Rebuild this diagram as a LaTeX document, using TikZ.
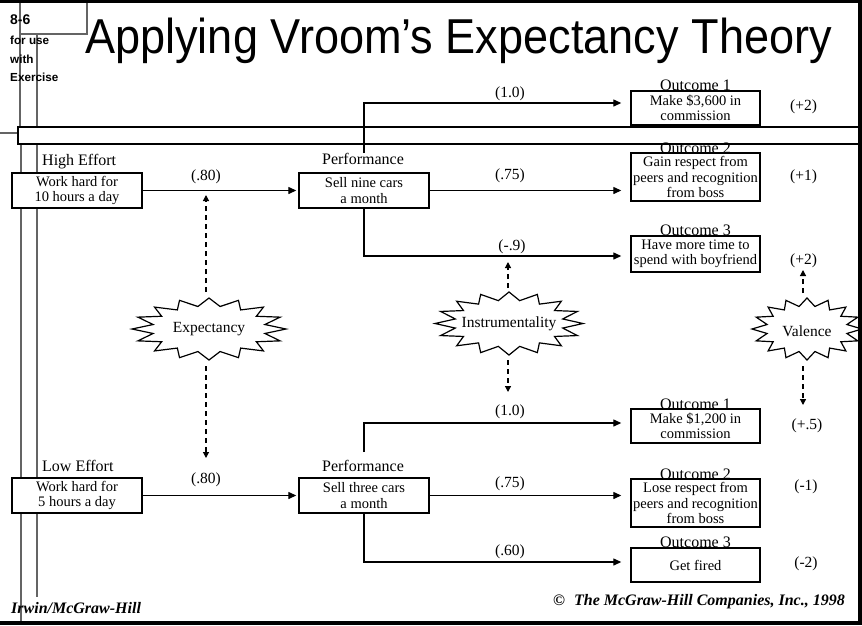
\documentclass[tikz,border=0pt]{standalone}
\usepackage{fontspec}
\setmainfont{Liberation Serif}
\newfontfamily\headfont{Liberation Sans}
\newfontfamily\titlefont{Liberation Sans}[FakeStretch=0.92]
\usetikzlibrary{arrows.meta,calc}

\definecolor{tmpl}{RGB}{100,100,100}

\tikzset{
  stepbox/.style={draw, line width=1.4pt, fill=white, inner sep=0pt, align=center,
    minimum width=130pt, minimum height=35pt, font=\fontsize{14.5}{15.5}\selectfont},
  outbox/.style={stepbox, minimum width=129pt},
  heading/.style={anchor=base, inner sep=0pt, font=\fontsize{16}{18}\selectfont},
  prob/.style={anchor=base, inner sep=0pt, font=\fontsize{15.5}{17}\selectfont},
  link/.style={line width=1.3pt, -{Triangle[length=8pt,width=7pt]}},
  branch/.style={line width=1.3pt},
  dlink/.style={line width=1.2pt, dash pattern=on 5pt off 4pt, -{Triangle[length=6pt,width=6pt]}},
  burstlabel/.style={inner sep=0pt, font=\fontsize{15.5}{17}\selectfont},
  burst/.style={line width=1.2pt, fill=white, line join=miter},
  tmplline/.style={tmpl, line width=1.3pt},
  sidenote/.style={anchor=base west, inner sep=0pt, font=\headfont\bfseries\fontsize{11.7}{13}\selectfont},
  footer/.style={inner sep=0pt, font=\bfseries\itshape\fontsize{16}{18}\selectfont},
}

% sixteen-point burst on an ellipse: centre x, centre y, outer rx, outer ry
\newcommand\drawburst[4]{%
  \draw[burst] (#1+#3,#2) \foreach \k in {1,...,31}{
    -- ({#1+#3*(1-0.26*mod(\k,2))*cos(\k*11.25)},{#2+#4*(1-0.26*mod(\k,2))*sin(\k*11.25)}) } -- cycle;}

\begin{document}
\begin{tikzpicture}[x=1pt,y=-1pt]
\useasboundingbox (0,0) rectangle (862,625);
\fill[white] (0,0) rectangle (862,625);

% slide template rules
\draw[tmplline] (20,0) -- (20,128);
\draw[tmplline] (87,0) -- (87,34) -- (20,34);
\draw[tmplline] (37,34) -- (37,128);
\draw[tmplline] (0,133) -- (18,133);
\draw[tmplline] (21,144) -- (21,625);
\draw[tmplline] (37,144) -- (37,597);
\draw[line width=1.2pt] (862,127) -- (18,127) -- (18,144) -- (862,144);

% heading
\node[anchor=base west, inner sep=0pt, font=\headfont\bfseries\fontsize{14}{16}\selectfont] (num) at (10,24) {8-6};
\node[sidenote] (use1) at (10,44) {for use};
\node[sidenote] (use2) at (10,63) {with};
\node[sidenote] (use3) at (10,81) {Exercise};
\node[anchor=base west, inner sep=0pt, font=\titlefont\fontsize{49}{51}\selectfont] (title) at (85,53) {Applying Vroom’s Expectancy Theory};

% ---- high effort path ----
\node[heading, anchor=base west] (hiLab) at (42,165) {High Effort};
\node[stepbox] (effH) at (77,190.5) {Work hard for\\10 hours a day};
\node[heading] (perfHLab) at (363,164) {Performance};
\node[stepbox] (perfH) at (364,190.5) {Sell nine cars\\a month};

\node[heading] (o1HLab) at (695.5,90) {Outcome 1};
\node[outbox, minimum height=34pt] (o1H) at (695.5,108) {Make \$3,600 in\\commission};
\node[heading] (o2HLab) at (695.5,153) {Outcome 2};
\node[outbox, minimum height=48pt] (o2H) at (695.5,177) {Gain respect from\\peers and recognition\\from boss};
\node[heading] (o3HLab) at (695.5,235) {Outcome 3};
\node[outbox, minimum height=36pt] (o3H) at (695.5,254) {Have more time to\\spend with boyfriend};

\node[prob] (pEH) at (206,180) {(.80)};
\node[prob] (p1H) at (510,97) {(1.0)};
\node[prob] (p2H) at (510,179) {(.75)};
\node[prob] (p3H) at (512,250) {(-.9)};
\node[prob] (v1H) at (803.5,110) {(+2)};
\node[prob] (v2H) at (803.5,180) {(+1)};
\node[prob] (v3H) at (803.5,264) {(+2)};

\draw[link, shorten >=2pt] (effH.east) -- (perfH.west);
\coordinate (bH1) at (364,153);
\draw[link, shorten >=9pt] (bH1) |- ([yshift=5pt]o1H.west);
\draw[link, shorten >=9pt] (perfH.east) -- (perfH.east -| o2H.west);
\draw[link, shorten >=9pt] (perfH.south) |- ([yshift=-2pt]o3H.west);

% ---- low effort path ----
\node[heading, anchor=base west] (loLab) at (42,471) {Low Effort};
\node[stepbox] (effL) at (77,495.5) {Work hard for\\5 hours a day};
\node[heading] (perfLLab) at (363,471) {Performance};
\node[stepbox] (perfL) at (364,495.5) {Sell three cars\\a month};

\node[heading] (o1LLab) at (695.5,409) {Outcome 1};
\node[outbox, minimum height=34pt] (o1L) at (695.5,426) {Make \$1,200 in\\commission};
\node[heading] (o2LLab) at (695.5,479) {Outcome 2};
\node[outbox, minimum height=48pt] (o2L) at (695.5,503) {Lose respect from\\peers and recognition\\from boss};
\node[heading] (o3LLab) at (695.5,547) {Outcome 3};
\node[outbox, minimum height=34pt] (o3L) at (695.5,565) {Get fired};

\node[prob] (pEL) at (206,483) {(.80)};
\node[prob] (p1L) at (510,415) {(1.0)};
\node[prob] (p2L) at (510,487) {(.75)};
\node[prob] (p3L) at (510,555) {(.60)};
\node[prob] (v1L) at (807,429) {(+.5)};
\node[prob] (v2L) at (806,490) {(-1)};
\node[prob] (v3L) at (806,567) {(-2)};

\draw[link, shorten >=2pt] (effL.east) -- (perfL.west);
\coordinate (bL1) at (364,452);
\draw[link, shorten >=9pt] (bL1) |- ([yshift=3pt]o1L.west);
\draw[link, shorten >=9pt] (perfL.east) -- (perfL.east -| o2L.west);
\draw[link, shorten >=9pt] (perfL.south) |- ([yshift=3pt]o3L.west);

% ---- bursts ----
\drawburst{209}{329}{77}{31}
\node[burstlabel] (expect) at (209,329) {Expectancy};
\drawburst{509}{323.5}{74}{31.5}
\node[burstlabel] (instr) at (509,323.5) {Instrumentality};
\begin{scope}
  \clip (0,0) rectangle (858,625);
  \drawburst{807}{329}{55}{31}
\end{scope}
\node[burstlabel] (val) at (807,331) {Valence};

% dashed pointers from the bursts to the links and values
\coordinate (eUp) at (206,195);
\coordinate (eDn) at (206,458);
\coordinate (iUp) at (508,262);
\coordinate (iDn) at (508,392);
\coordinate (vUp) at (803,270);
\coordinate (vDn) at (803,405);
\draw[dlink] (eUp |- 0,292) -- (eUp);
\draw[dlink] (eDn |- 0,366) -- (eDn);
\draw[dlink] (iUp |- 0,288) -- (iUp);
\draw[dlink] (iDn |- 0,360) -- (iDn);
\draw[dlink] (vUp |- 0,293) -- (vUp);
\draw[dlink] (vDn |- 0,366) -- (vDn);

% ---- footer ----
\node[footer, anchor=base west] (pub) at (11,613) {Irwin/McGraw-Hill};
\node[footer, anchor=base east] (copy) at (845,605) {©\hspace{9pt}The McGraw-Hill Companies, Inc., 1998};

% frame
\fill (0,0) rectangle (862,3);
\fill (858,0) rectangle (862,625);
\fill (0,621) rectangle (862,625);
\end{tikzpicture}
\end{document}
